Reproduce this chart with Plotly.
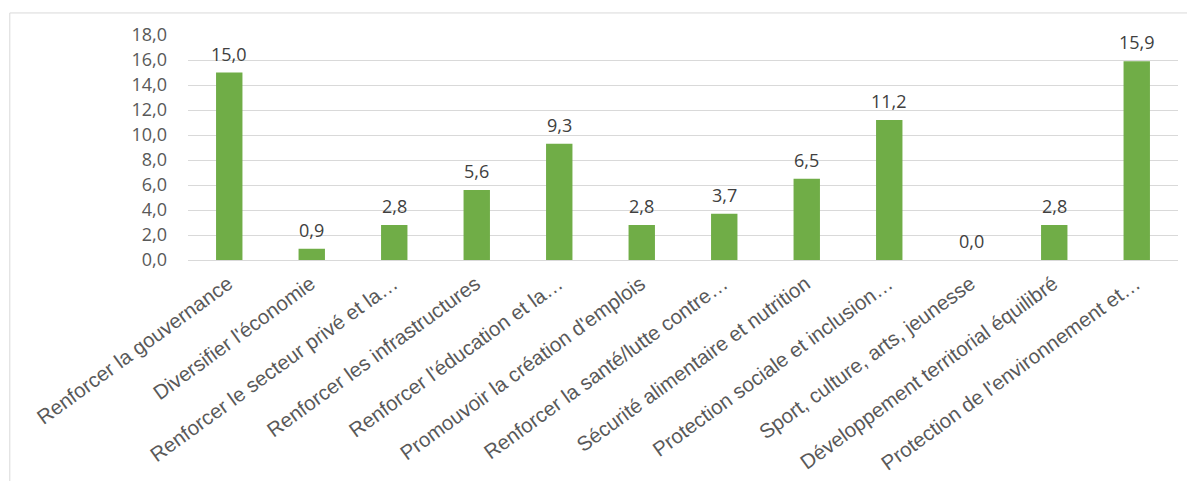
import plotly.graph_objects as go

categories = [
    "Renforcer la gouvernance",
    "Diversifier l'économie",
    "Renforcer le secteur privé et la…",
    "Renforcer les infrastructures",
    "Renforcer l'éducation et la…",
    "Promouvoir la création d'emplois",
    "Renforcer la santé/lutte contre…",
    "Sécurité alimentaire et nutrition",
    "Protection sociale et inclusion…",
    "Sport, culture, arts, jeunesse",
    "Développement territorial équilibré",
    "Protection de l'environnement et…",
]
values = [15.0, 0.9, 2.8, 5.6, 9.3, 2.8, 3.7, 6.5, 11.2, 0.0, 2.8, 15.9]
y_ticks = [0, 2, 4, 6, 8, 10, 12, 14, 16, 18]

fig = go.Figure(go.Bar(
    x=categories, y=values,
    marker=dict(color="#70AD47", line=dict(width=0)),
    hoverinfo="x+y",
))

annotations = [
    dict(x=c, y=v, xref="x", yref="y", text=f"{v:.1f}".replace(".", ","),
         showarrow=False, yanchor="bottom", yshift=5,
         font=dict(family="Open Sans", size=18, color="#404040"))
    for c, v in zip(categories, values)
]

fig.update_layout(
    width=1195, height=481,
    margin=dict(l=180, r=25, t=27, b=229),
    paper_bgcolor="white", plot_bgcolor="white",
    separators=", ",
    bargap=0.68,
    showlegend=False,
    annotations=annotations,
    shapes=[dict(type="rect", xref="paper", yref="paper",
                 x0=-0.18, x1=1.05, y0=-1.1, y1=1.098,
                 line=dict(color="#d9d9d9", width=1), fillcolor="rgba(0,0,0,0)", layer="below")],
)
fig.update_xaxes(
    tickangle=-36, automargin=False,
    tickfont=dict(family="Liberation Sans, Arial", size=20.5, color="#595959"),
    showline=True, linecolor="#d9d9d9", ticks="",
    ticklabelshift=-1, ticklabelstandoff=3,
)
fig.update_yaxes(
    range=[0, 18], tickvals=y_ticks, tickformat=".1f", automargin=False,
    tickfont=dict(family="Open Sans", size=18, color="#595959"),
    showgrid=True, gridcolor="#d9d9d9", zeroline=False, ticks="",
    ticklabelstandoff=20,
)

fig.write_html("out.html")
